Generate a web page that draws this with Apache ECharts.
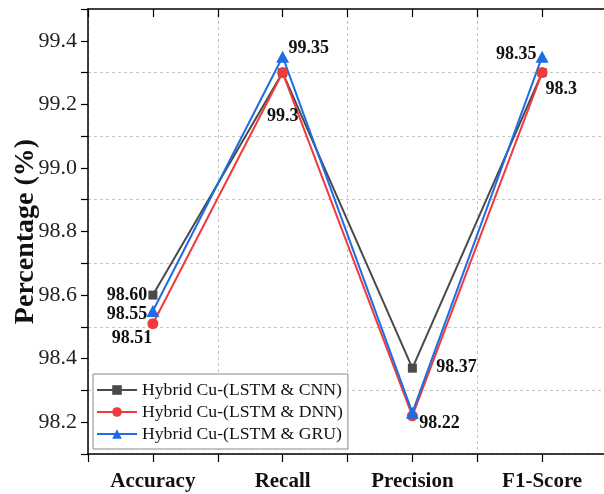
<!DOCTYPE html>
<html>
<head>
<meta charset="utf-8">
<script src="https://cdn.jsdelivr.net/npm/echarts@6/dist/echarts.min.js"></script>
<style>
html,body{margin:0;padding:0;background:#fff;overflow:hidden}
#main{width:604px;height:494px}
</style>
</head>
<body>
<div id="main"></div>
<script>
var categories = ['Accuracy', 'Recall', 'Precision', 'F1-Score'];
var seriesNames = ['Hybrid Cu-(LSTM & CNN)', 'Hybrid Cu-(LSTM & DNN)', 'Hybrid Cu-(LSTM & GRU)'];
var cnnValues = [98.60, 99.30, 98.37, 99.30];
var dnnValues = [98.51, 99.30, 98.22, 99.30];
var gruValues = [98.55, 99.35, 98.23, 99.35];
// text of the point labels as printed on the figure (null = no label)
var cnnLabels = ['98.60', null, '98.37', null];
var dnnLabels = ['98.51', '99.3', '98.22', '98.3'];
var gruLabels = ['98.55', '99.35', null, '98.35'];

// where each label sits relative to its point (px)
var cnnOffsets = [[-26, 0], null, [44, -1], null];
var dnnOffsets = [[-21, 15], [0, 44], [27, 7], [19, 17]];
var gruOffsets = [[-26, 3], [26, -8], null, [-26, -2]];

var serif = '"Liberation Serif", "Times New Roman", serif';
var myChart = echarts.init(document.getElementById('main'));

function makeData(values, labels, offsets) {
  return values.map(function (v, i) {
    return {
      value: [i + 1, v],
      label: labels[i] ? { show: true, formatter: labels[i], offset: offsets[i] } : { show: false }
    };
  });
}

var lineLabel = {
  position: 'inside',
  fontFamily: serif,
  fontWeight: 'bold',
  fontSize: 18,
  color: '#111'
};

var option = {
  animation: false,
  backgroundColor: '#fff',
  // plot runs past the right edge of the picture, as in the original figure
  grid: { left: 88, top: 9, right: -3, bottom: 40, outerBoundsMode: 'none', containLabel: false },
  legend: {
    data: seriesNames,
    orient: 'vertical',
    left: 93,
    top: 374,
    padding: [7, 5, 6, 3],
    itemGap: 4,
    itemWidth: 40,
    itemHeight: 12,
    borderColor: '#888',
    borderWidth: 1,
    backgroundColor: '#fff',
    textStyle: { fontFamily: serif, fontSize: 17.7, color: '#111' }
  },
  xAxis: [{
    type: 'value',
    min: 0.5,
    max: 4.5,
    interval: 0.5,
    axisLine: { lineStyle: { color: '#000', width: 1.5 } },
    axisTick: { show: true, inside: false, length: 8, lineStyle: { color: '#000', width: 1.2 } },
    axisLabel: {
      margin: 17,
      fontFamily: serif,
      fontWeight: 'bold',
      fontSize: 21,
      color: '#111',
      formatter: function (v) {
        var r = Math.round(v);
        return Math.abs(v - r) < 1e-6 && r >= 1 && r <= categories.length ? categories[r - 1] : '';
      }
    },
    // dashed lines only between the categories
    splitLine: { show: true, showMaxLine: false, lineStyle: { color: ['#c4c4c4', 'rgba(0,0,0,0)'], type: [3, 3], width: 1 } }
  }, {
    type: 'value',
    position: 'top',
    min: 0.5,
    max: 4.5,
    interval: 0.5,
    axisLine: { lineStyle: { color: '#000', width: 1.5 } },
    axisTick: { show: true, inside: true, length: 8, lineStyle: { color: '#000', width: 1.2 } },
    axisLabel: { show: false },
    splitLine: { show: false }
  }],
  yAxis: [{
    type: 'value',
    min: 98.1,
    max: 99.5,
    interval: 0.1,
    name: 'Percentage (%)',
    nameLocation: 'middle',
    nameGap: 48,
    nameMoveOverlap: false,
    nameTextStyle: { fontFamily: serif, fontWeight: 'bold', fontSize: 28, color: '#111' },
    axisLine: { show: true, lineStyle: { color: '#000', width: 1.5 } },
    axisTick: { show: true, length: 7, lineStyle: { color: '#000', width: 1.2 } },
    axisLabel: {
      margin: 11,
      fontFamily: serif,
      fontSize: 22,
      color: '#222',
      formatter: function (v) {
        var k = Math.round(v * 10);
        return k % 2 === 0 ? (k / 10).toFixed(1) : '';
      }
    },
    // dashed lines at the odd tenths only
    splitLine: { show: true, showMaxLine: false, lineStyle: { color: ['#c4c4c4', 'rgba(0,0,0,0)'], type: [3, 3], width: 1 } }
  }],
  series: [{
    name: seriesNames[0],
    type: 'line',
    symbol: 'rect',
    symbolSize: 9,
    color: '#4a4a4a',
    lineStyle: { width: 2 },
    label: lineLabel,
    data: makeData(cnnValues, cnnLabels, cnnOffsets)
  }, {
    name: seriesNames[1],
    type: 'line',
    symbol: 'circle',
    symbolSize: 11,
    color: '#f03a3c',
    lineStyle: { width: 2 },
    label: lineLabel,
    data: makeData(dnnValues, dnnLabels, dnnOffsets)
  }, {
    name: seriesNames[2],
    type: 'line',
    symbol: 'triangle',
    symbolSize: [13, 12],
    color: '#1d6de3',
    lineStyle: { width: 2 },
    label: lineLabel,
    data: makeData(gruValues, gruLabels, gruOffsets)
  }]
};

myChart.setOption(option);
</script>
</body>
</html>
